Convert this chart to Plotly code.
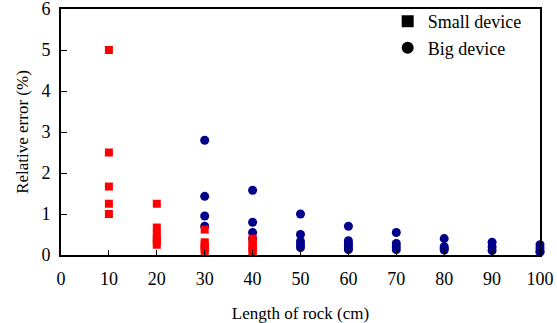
import plotly.graph_objects as go

small_x = [10, 10, 10, 10, 10,
           20, 20, 20, 20, 20, 20,
           30, 30, 30, 30, 30, 30,
           40, 40, 40, 40, 40, 40, 40]
small_y = [5.0, 2.5, 1.67, 1.25, 1.0,
           1.25, 0.67, 0.5, 0.4, 0.33, 0.25,
           0.62, 0.31, 0.25, 0.2, 0.15, 0.1,
           0.4, 0.33, 0.25, 0.2, 0.15, 0.1, 0.08]

big_x = [30, 30, 30, 30,
         40, 40, 40, 40,
         50, 50, 50, 50, 50,
         60, 60, 60, 60, 60, 60,
         70, 70, 70, 70,
         80, 80, 80, 80,
         90, 90, 90,
         100, 100, 100, 100]
big_y = [2.8, 1.43, 0.95, 0.7,
         1.58, 0.8, 0.55, 0.4,
         1.0, 0.5, 0.33, 0.25, 0.18,
         0.7, 0.35, 0.28, 0.23, 0.17, 0.13,
         0.55, 0.28, 0.2, 0.13,
         0.4, 0.2, 0.16, 0.12,
         0.31, 0.2, 0.11,
         0.25, 0.17, 0.1, 0.07]

x_ticks = [0, 10, 20, 30, 40, 50, 60, 70, 80, 90, 100]
y_ticks = [0, 1, 2, 3, 4, 5, 6]

FAM = "Times New Roman, Liberation Serif, serif"

fig = go.Figure()
fig.add_trace(go.Scatter(x=big_x, y=big_y, mode="markers", showlegend=False,
                         marker=dict(symbol="circle", size=9, color="#00008B"),
                         cliponaxis=False))
fig.add_trace(go.Scatter(x=small_x, y=small_y, mode="markers", showlegend=False,
                         marker=dict(symbol="square", size=8, color="#FF0000"),
                         cliponaxis=False))
fig.add_trace(go.Scatter(x=[None], y=[None], mode="markers", name="Small device",
                         marker=dict(symbol="square", size=12, color="black")))
fig.add_trace(go.Scatter(x=[None], y=[None], mode="markers", name="Big device",
                         marker=dict(symbol="circle", size=12, color="black")))

fig.update_layout(
    width=557, height=323,
    margin=dict(l=61, r=17, t=9, b=68, autoexpand=False),
    paper_bgcolor="white", plot_bgcolor="white",
    font=dict(family=FAM, size=17, color="black"),
    legend=dict(x=0.682, y=1.024, xanchor="left", yanchor="top",
                bgcolor="rgba(0,0,0,0)", font=dict(family=FAM, size=18, color="black"),
                itemwidth=30, tracegroupgap=0),
    xaxis=dict(range=[0, 100], tickvals=x_ticks, ticks="inside", ticklen=5,
               tickcolor="black", showgrid=False, zeroline=False,
               showline=True, linecolor="black", linewidth=2, mirror=True,
               automargin=False, ticklabelstandoff=6, ticklabeloverflow="allow",
               title=dict(text="Length of rock (cm)", standoff=30,
                          font=dict(family=FAM, size=17, color="black")),
               tickfont=dict(family=FAM, size=18, color="black")),
    yaxis=dict(range=[0, 6], tickvals=y_ticks, ticks="inside", ticklen=6,
               tickcolor="black", showgrid=False, zeroline=False,
               showline=True, linecolor="black", linewidth=2, mirror=True,
               automargin=False, ticklabelstandoff=5, ticklabeloverflow="allow",
               title=dict(text="Relative error (%)", standoff=8,
                          font=dict(family=FAM, size=17, color="black")),
               tickfont=dict(family=FAM, size=18, color="black")),
)

fig.write_html("out.html", config={"displayModeBar": False},
               post_script="document.body.style.margin='0';")
